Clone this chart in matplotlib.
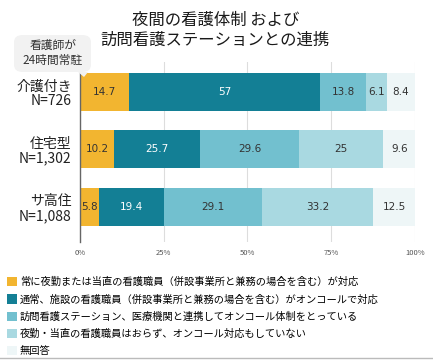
import matplotlib
matplotlib.use("Agg")
import matplotlib.pyplot as plt
from matplotlib.patches import FancyBboxPatch, Polygon
from matplotlib.lines import Line2D

plt.rcParams['font.family'] = ['Noto Sans CJK JP', 'DejaVu Sans']

categories = ["介護付き\nN=726", "住宅型\nN=1,302", "サ高住\nN=1,088"]
series_names = [
    "常に夜勤または当直の看護職員（併設事業所と兼務の場合を含む）が対応",
    "通常、施設の看護職員（併設事業所と兼務の場合を含む）がオンコールで対応",
    "訪問看護ステーション、医療機関と連携してオンコール体制をとっている",
    "夜勤・当直の看護職員はおらず、オンコール対応もしていない",
    "無回答",
]
always_night = [14.7, 10.2, 5.8]
staff_oncall = [57, 25.7, 19.4]
partner_oncall = [13.8, 29.6, 29.1]
no_coverage = [6.1, 25, 33.2]
no_answer = [8.4, 9.6, 12.5]
series = [always_night, staff_oncall, partner_oncall, no_coverage, no_answer]
ticks = [0, 25, 50, 75, 100]

colors = ["#F2B530", "#137F95", "#72C0CF", "#A9D9E1", "#EEF6F7"]
text_colors = ["#333333", "white", "#333333", "#333333", "#333333"]

fig = plt.figure(figsize=(4.33, 3.6), dpi=100)
ax = fig.add_axes([80 / 433, 118 / 360, 335 / 433, 180 / 360])

ypos = list(range(len(categories)))
left = [0] * len(categories)
handles = []
for vals, col, tcol, name in zip(series, colors, text_colors, series_names):
    bars = ax.barh(ypos, vals, left=left, height=0.66, color=col, zorder=2, label=name)
    handles.append(bars)
    for y, v, l in zip(ypos, vals, left):
        ax.text(l + v / 2, y, f"{v:g}", ha="center", va="center", fontsize=7.5,
                color=tcol, family=['DejaVu Sans'], zorder=3)
    left = [a + b for a, b in zip(left, vals)]

ax.set_xlim(0, 100)
ax.set_ylim(2.61, -0.52)
ax.set_xticks(ticks)
ax.set_xticklabels([f"{t}%" for t in ticks], fontsize=5.5, color="#555555")
ax.set_yticks(ypos)
ax.set_yticklabels(categories, fontsize=10, color="#222222", linespacing=1.05)
ax.tick_params(axis="both", length=0)
ax.tick_params(axis="x", pad=5)
ax.tick_params(axis="y", pad=6)
ax.xaxis.grid(True, color="#DDDDDD", linewidth=0.8, zorder=0)
ax.set_axisbelow(True)
for s in ["top", "right", "bottom"]:
    ax.spines[s].set_visible(False)
ax.spines["left"].set_color("#666666")
ax.spines["left"].set_linewidth(1)

# title
fig.text(0.497, 1 - 20 / 360, "夜間の看護体制 および", ha="center", va="center",
         fontsize=11.8, color="#1a1a1a")
fig.text(0.497, 1 - 40 / 360, "訪問看護ステーションとの連携", ha="center", va="center",
         fontsize=11.8, color="#1a1a1a")

# callout box
box = FancyBboxPatch((14 / 433, 1 - 72 / 360), 77 / 433, 37 / 360,
                     boxstyle="round,pad=0,rounding_size=0.02",
                     transform=fig.transFigure, facecolor="#F2F2F2",
                     edgecolor="none", zorder=1)
fig.patches.append(box)
tail = Polygon([(78 / 433, 1 - 72 / 360), (88 / 433, 1 - 72 / 360), (84 / 433, 1 - 77 / 360)],
               closed=True, transform=fig.transFigure, facecolor="#F2F2F2",
               edgecolor="none", zorder=5)
fig.patches.append(tail)
fig.text(53 / 433, 1 - 53 / 360, "看護師が\n24時間常駐", ha="center", va="center",
         fontsize=8.5, color="#333333", linespacing=1.2)

# legend
fig.legend(handles=handles, labels=series_names, loc="upper left",
           bbox_to_anchor=(7 / 433, 1 - 277 / 360), frameon=False, fontsize=7.4,
           handlelength=1.0, handleheight=1.0, handletextpad=0.25,
           labelspacing=0.68, borderaxespad=0, borderpad=0)

fig.add_artist(Line2D([0, 1], [2 / 360, 2 / 360], transform=fig.transFigure,
                      color="#BBBBBB", linewidth=1))

fig.savefig("out.png", dpi=100)
